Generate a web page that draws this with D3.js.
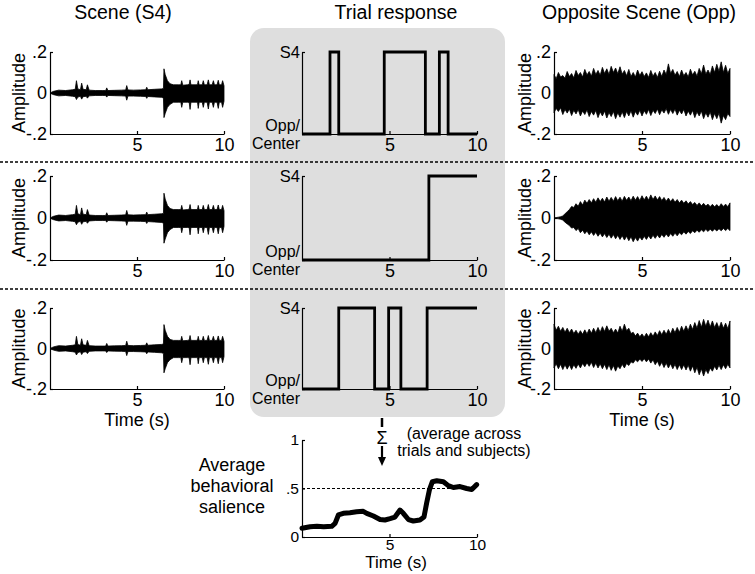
<!DOCTYPE html>
<html>
<head>
<meta charset="utf-8">
<script src="https://cdn.jsdelivr.net/npm/d3@7"></script>
<style>
  body { margin: 0; background: #fff; }
  svg text { font-family: "Liberation Sans", Arial, sans-serif; fill: #000; }
</style>
</head>
<body>
<div id="chart"></div>
<script>
// ---- data ----
const timeTicks = [5, 10];
const ampTicks = [0.2, 0, -0.2];
const ampLabels = ['.2', '0', '-.2'];
const salTicks = [1, 0.5, 0];
const salLabels = ['1', '.5', '0'];

// scene (S4) waveform envelope, same clip in all three rows
const sceneT = [0, 0.2, 0.5, 0.9, 1.3, 1.45, 1.52, 1.6, 1.75, 1.82, 1.9, 2.08, 2.15, 2.25, 2.6, 3.0, 3.2, 3.26, 3.33, 3.7,
  4.1, 4.35, 4.41, 4.48, 4.8, 5.2, 5.5, 5.56, 5.62, 6.0, 6.4, 6.52, 6.55, 6.62, 6.75, 6.9, 7.1, 7.4, 7.52, 7.57,
  7.63, 7.9, 8.0, 8.05, 8.1, 8.4, 8.48, 8.52, 8.57, 8.75, 8.81, 8.87, 9.03, 9.1, 9.16, 9.32, 9.39, 9.45, 9.6, 9.67,
  9.73, 9.86, 9.92, 10];
const sceneHi = [0, 0.008, 0.014, 0.012, 0.016, 0.018, 0.06, 0.02, 0.016, 0.048, 0.018, 0.016, 0.04, 0.014, 0.012, 0.012, 0.012, 0.025, 0.012, 0.013,
  0.014, 0.015, 0.036, 0.015, 0.014, 0.015, 0.016, 0.028, 0.016, 0.018, 0.02, 0.022, 0.118, 0.09, 0.06, 0.045, 0.04, 0.04, 0.04, 0.06,
  0.038, 0.04, 0.042, 0.064, 0.04, 0.04, 0.042, 0.06, 0.04, 0.04, 0.06, 0.04, 0.04, 0.064, 0.04, 0.04, 0.06, 0.04, 0.04, 0.062,
  0.04, 0.04, 0.06, 0.035];
const sceneLo = [0, -0.008, -0.014, -0.012, -0.016, -0.018, -0.032, -0.02, -0.016, -0.03, -0.018, -0.016, -0.025, -0.014, -0.012, -0.012, -0.012, -0.02, -0.012, -0.013,
  -0.014, -0.015, -0.035, -0.015, -0.015, -0.016, -0.017, -0.026, -0.017, -0.019, -0.021, -0.024, -0.12, -0.1, -0.07, -0.055, -0.045, -0.045, -0.045, -0.07,
  -0.045, -0.045, -0.046, -0.08, -0.045, -0.045, -0.046, -0.075, -0.045, -0.045, -0.07, -0.045, -0.045, -0.078, -0.045, -0.045, -0.07, -0.045, -0.045, -0.075,
  -0.045, -0.045, -0.07, -0.04];

// opposite scene envelopes (one per row), sampled every 0.125 s
const oppT = [0, 0.125, 0.25, 0.375, 0.5, 0.625, 0.75, 0.875, 1, 1.125, 1.25, 1.375, 1.5, 1.625, 1.75, 1.875,
  2, 2.125, 2.25, 2.375, 2.5, 2.625, 2.75, 2.875, 3, 3.125, 3.25, 3.375, 3.5, 3.625, 3.75, 3.875,
  4, 4.125, 4.25, 4.375, 4.5, 4.625, 4.75, 4.875, 5, 5.125, 5.25, 5.375, 5.5, 5.625, 5.75, 5.875,
  6, 6.125, 6.25, 6.375, 6.5, 6.625, 6.75, 6.875, 7, 7.125, 7.25, 7.375, 7.5, 7.625, 7.75, 7.875,
  8, 8.125, 8.25, 8.375, 8.5, 8.625, 8.75, 8.875, 9, 9.125, 9.25, 9.375, 9.5, 9.625, 9.75, 9.875, 10];
const opp1Hi = [0.09, 0.07, 0.1, 0.078, 0.085, 0.072, 0.105, 0.08, 0.095, 0.074, 0.11, 0.085, 0.1, 0.078, 0.115, 0.088,
  0.105, 0.082, 0.12, 0.09, 0.11, 0.086, 0.125, 0.095, 0.118, 0.09, 0.13, 0.1, 0.122, 0.094, 0.128, 0.092,
  0.11, 0.084, 0.115, 0.08, 0.1, 0.078, 0.112, 0.085, 0.104, 0.08, 0.098, 0.076, 0.11, 0.082, 0.1, 0.076,
  0.106, 0.08, 0.112, 0.09, 0.142, 0.095, 0.115, 0.086, 0.105, 0.08, 0.112, 0.084, 0.1, 0.078, 0.116, 0.088,
  0.106, 0.082, 0.12, 0.094, 0.136, 0.092, 0.112, 0.09, 0.132, 0.1, 0.14, 0.105, 0.152, 0.1, 0.135, 0.095, 0.12];
const opp1Lo = [-0.096, -0.075, -0.09, -0.072, -0.105, -0.08, -0.098, -0.078, -0.11, -0.084, -0.102, -0.08, -0.112, -0.088, -0.105, -0.082,
  -0.115, -0.09, -0.108, -0.085, -0.12, -0.092, -0.112, -0.088, -0.122, -0.095, -0.115, -0.09, -0.125, -0.096, -0.118, -0.092,
  -0.12, -0.09, -0.112, -0.086, -0.118, -0.09, -0.108, -0.084, -0.112, -0.086, -0.104, -0.08, -0.11, -0.084, -0.1, -0.078,
  -0.106, -0.082, -0.098, -0.076, -0.104, -0.08, -0.1, -0.078, -0.108, -0.084, -0.102, -0.08, -0.112, -0.088, -0.108, -0.085,
  -0.12, -0.092, -0.112, -0.088, -0.125, -0.096, -0.118, -0.092, -0.13, -0.1, -0.125, -0.098, -0.147, -0.11, -0.13, -0.1, -0.115];
const opp2Hi = [0, 0.002, 0.004, 0.006, 0.01, 0.02, 0.03, 0.04, 0.055, 0.05, 0.068, 0.056, 0.078, 0.062, 0.085, 0.07,
  0.088, 0.072, 0.092, 0.075, 0.096, 0.078, 0.094, 0.076, 0.1, 0.08, 0.098, 0.08, 0.102, 0.082, 0.099, 0.08,
  0.103, 0.084, 0.1, 0.082, 0.104, 0.085, 0.102, 0.083, 0.106, 0.086, 0.104, 0.085, 0.11, 0.088, 0.105, 0.086,
  0.102, 0.083, 0.098, 0.08, 0.095, 0.078, 0.092, 0.075, 0.088, 0.072, 0.085, 0.07, 0.082, 0.067, 0.078, 0.064,
  0.074, 0.06, 0.072, 0.058, 0.07, 0.057, 0.066, 0.054, 0.065, 0.053, 0.064, 0.052, 0.068, 0.055, 0.066, 0.054, 0.072];
const opp2Lo = [0, -0.002, -0.004, -0.006, -0.01, -0.02, -0.028, -0.036, -0.048, -0.045, -0.06, -0.05, -0.07, -0.058, -0.075, -0.062,
  -0.08, -0.066, -0.083, -0.068, -0.087, -0.072, -0.09, -0.074, -0.093, -0.077, -0.096, -0.079, -0.099, -0.082, -0.102, -0.084,
  -0.105, -0.087, -0.108, -0.089, -0.113, -0.093, -0.11, -0.09, -0.105, -0.087, -0.102, -0.084, -0.1, -0.082, -0.097, -0.08,
  -0.095, -0.078, -0.092, -0.076, -0.09, -0.074, -0.087, -0.072, -0.085, -0.07, -0.08, -0.066, -0.077, -0.064, -0.074, -0.061,
  -0.07, -0.058, -0.068, -0.056, -0.066, -0.054, -0.064, -0.053, -0.063, -0.052, -0.062, -0.051, -0.061, -0.05, -0.06, -0.05, -0.06];
const opp3Hi = [0.12, 0.09, 0.11, 0.085, 0.104, 0.08, 0.1, 0.078, 0.096, 0.074, 0.09, 0.07, 0.088, 0.07, 0.092, 0.072,
  0.096, 0.075, 0.1, 0.078, 0.104, 0.08, 0.108, 0.084, 0.112, 0.085, 0.1, 0.078, 0.096, 0.076, 0.11, 0.085,
  0.12, 0.088, 0.1, 0.074, 0.08, 0.062, 0.076, 0.058, 0.072, 0.056, 0.075, 0.058, 0.078, 0.06, 0.082, 0.064,
  0.088, 0.068, 0.09, 0.07, 0.094, 0.072, 0.1, 0.078, 0.104, 0.08, 0.11, 0.085, 0.112, 0.088, 0.12, 0.094,
  0.128, 0.1, 0.138, 0.105, 0.144, 0.11, 0.14, 0.106, 0.136, 0.104, 0.128, 0.1, 0.13, 0.1, 0.125, 0.098, 0.136];
const opp3Lo = [-0.096, -0.075, -0.1, -0.078, -0.104, -0.08, -0.102, -0.08, -0.104, -0.08, -0.098, -0.076, -0.096, -0.074, -0.09, -0.07,
  -0.088, -0.068, -0.094, -0.072, -0.096, -0.075, -0.1, -0.078, -0.104, -0.08, -0.108, -0.084, -0.112, -0.086, -0.1, -0.078,
  -0.096, -0.074, -0.084, -0.066, -0.072, -0.056, -0.066, -0.052, -0.064, -0.05, -0.066, -0.052, -0.072, -0.056, -0.08, -0.062,
  -0.088, -0.068, -0.094, -0.072, -0.096, -0.075, -0.1, -0.078, -0.104, -0.08, -0.104, -0.08, -0.106, -0.082, -0.112, -0.086,
  -0.12, -0.092, -0.13, -0.1, -0.136, -0.104, -0.124, -0.096, -0.112, -0.088, -0.106, -0.082, -0.104, -0.08, -0.1, -0.078, -0.096];

// trial responses: switch times and state (1 = S4, 0 = Opp/Center)
const trial1T = [0, 1.6, 2.1, 4.7, 7.05, 7.85, 8.35, 10];
const trial1S = [0, 1, 0, 1, 0, 1, 0, 0];
const trial2T = [0, 7.25, 10];
const trial2S = [0, 1, 1];
const trial3T = [0, 2.1, 4.15, 4.95, 5.65, 7.15, 10];
const trial3S = [0, 1, 0, 1, 0, 1, 1];

// average behavioral salience
const salT = [0, 0.46, 0.85, 1.24, 1.7, 1.89, 2.08, 2.36, 2.74, 3.12, 3.5, 3.7, 4.08, 4.46, 4.74, 5.03, 5.31, 5.6, 5.79, 6.08,
  6.36, 6.74, 6.97, 7.12, 7.28, 7.45, 7.7, 8.08, 8.36, 8.65, 9.03, 9.41, 9.7, 9.98];
const salV = [0.09, 0.106, 0.11, 0.105, 0.11, 0.14, 0.227, 0.244, 0.25, 0.26, 0.265, 0.244, 0.216, 0.18, 0.175, 0.19, 0.206, 0.278, 0.244, 0.18,
  0.165, 0.175, 0.206, 0.347, 0.485, 0.57, 0.58, 0.57, 0.53, 0.51, 0.52, 0.5, 0.49, 0.54];

// ---- layout ----
const W = 755, H = 574;
const rowTop = [52, 176, 308];
const rowBot = [134, 260, 389];
const colL = [50, 224], colM = [302, 477], colR = [554, 730];

const svg = d3.select('#chart').append('svg')
  .attr('width', W).attr('height', H);

// gray box behind trial responses
svg.append('rect')
  .attr('x', 250).attr('y', 28).attr('width', 255).attr('height', 389)
  .attr('rx', 14).attr('fill', '#dedede');

// dashed row separators
[162, 289].forEach(y => {
  svg.append('line')
    .attr('x1', 0).attr('x2', W).attr('y1', y).attr('y2', y)
    .attr('stroke', '#000').attr('stroke-width', 1.4).attr('stroke-dasharray', '3,2');
});

// titles
const titles = [['Scene (S4)', 123], ['Trial response', 396], ['Opposite Scene (Opp)', 639]];
titles.forEach(([t, x]) => {
  svg.append('text').attr('x', x).attr('y', 19).attr('text-anchor', 'middle')
    .style('font-size', '19.5px').text(t);
});

function styleAxis(g, size) {
  g.attr('font-family', null).attr('font-size', null);
  g.select('.domain').attr('stroke-width', 1.2);
  g.selectAll('.tick line').attr('stroke-width', 1.2);
  g.selectAll('.tick text').style('font-size', (size || 18) + 'px');
}

function xAxis(g, x, yPos, size, pad) {
  g.append('g').attr('transform', `translate(0,${yPos})`)
    .call(d3.axisBottom(x).tickValues(timeTicks).tickFormat(d3.format('d'))
      .tickSizeInner(-3).tickSizeOuter(0).tickPadding(pad || 4))
    .call(styleAxis, size);
}

function wavePanel(cols, r, t, hi, lo, ampX) {
  const x = d3.scaleLinear().domain([0, 10]).range(cols);
  const y = d3.scaleLinear().domain([-0.2, 0.2]).range([rowBot[r], rowTop[r]]);
  const n = Math.min(t.length, hi.length, lo.length);
  const area = d3.area()
    .x(i => x(t[i])).y0(i => y(lo[i])).y1(i => y(hi[i]));
  svg.append('path').datum(d3.range(n))
    .attr('d', area).attr('fill', '#000')
    .attr('stroke', '#000').attr('stroke-width', 0.8);
  xAxis(svg, x, rowBot[r]);
  svg.append('g').attr('transform', `translate(${cols[0]},0)`)
    .call(d3.axisLeft(y).tickValues(ampTicks).tickFormat((d, i) => ampLabels[i])
      .tickSizeInner(-3).tickSizeOuter(0).tickPadding(3))
    .call(styleAxis);
  svg.append('text')
    .attr('transform', `translate(${ampX},${(rowTop[r] + rowBot[r]) / 2}) rotate(-90)`)
    .attr('text-anchor', 'middle').style('font-size', '18px').text('Amplitude');
}

function trialPanel(r, t, s) {
  const x = d3.scaleLinear().domain([0, 10]).range(colM);
  const y = d3.scaleLinear().domain([0, 1]).range([rowBot[r], rowTop[r]]);
  xAxis(svg, x, rowBot[r]);
  svg.append('g').attr('transform', `translate(${colM[0]},0)`)
    .call(d3.axisLeft(y).tickValues([1, 0]).tickFormat(d => d === 1 ? 'S4' : '')
      .tickSizeInner(-3).tickSizeOuter(0).tickPadding(2))
    .call(styleAxis, 16.5);
  svg.append('text').attr('text-anchor', 'end').style('font-size', '16px')
    .attr('x', colM[0] - 2).attr('y', y(0) - 3).text('Opp/');
  svg.append('text').attr('text-anchor', 'end').style('font-size', '16px')
    .attr('x', colM[0] - 2).attr('y', y(0) + 15).text('Center');
  const line = d3.line().curve(d3.curveStepAfter)
    .x(i => x(t[i])).y(i => y(s[i]));
  svg.append('path').datum(d3.range(t.length))
    .attr('d', line).attr('fill', 'none').attr('stroke', '#000')
    .attr('stroke-width', 2.8).attr('stroke-linejoin', 'miter');
}

[0, 1, 2].forEach(r => wavePanel(colL, r, sceneT, sceneHi, sceneLo, 25));
wavePanel(colR, 0, oppT, opp1Hi, opp1Lo, 531);
wavePanel(colR, 1, oppT, opp2Hi, opp2Lo, 531);
wavePanel(colR, 2, oppT, opp3Hi, opp3Lo, 531);

trialPanel(0, trial1T, trial1S);
trialPanel(1, trial2T, trial2S);
trialPanel(2, trial3T, trial3S);

// Time (s) under the bottom row
[[137, 426], [642, 426]].forEach(([x, y]) => {
  svg.append('text').attr('x', x).attr('y', y).attr('text-anchor', 'middle')
    .style('font-size', '18px').text('Time (s)');
});

// ---- summation arrow ----
const ax = 382;
svg.append('line').attr('x1', ax).attr('x2', ax).attr('y1', 418).attr('y2', 427)
  .attr('stroke', '#000').attr('stroke-width', 2.5);
svg.append('text').attr('x', ax).attr('y', 444).attr('text-anchor', 'middle')
  .style('font-size', '18px').text('Σ');
svg.append('line').attr('x1', ax).attr('x2', ax).attr('y1', 446).attr('y2', 458)
  .attr('stroke', '#000').attr('stroke-width', 2.2);
svg.append('path').attr('d', `M${ax - 4},457 L${ax + 4},457 L${ax},466 Z`).attr('fill', '#000');
svg.append('text').attr('x', 464).attr('y', 439).attr('text-anchor', 'middle')
  .style('font-size', '16px').text('(average across');
svg.append('text').attr('x', 464).attr('y', 456).attr('text-anchor', 'middle')
  .style('font-size', '16px').text('trials and subjects)');

// ---- average behavioral salience ----
const sx = d3.scaleLinear().domain([0, 10]).range(colM);
const sy = d3.scaleLinear().domain([0, 1]).range([537, 440]);
svg.append('line')
  .attr('x1', sx(0)).attr('x2', sx(10)).attr('y1', sy(0.5)).attr('y2', sy(0.5))
  .attr('stroke', '#000').attr('stroke-width', 1).attr('stroke-dasharray', '3,2');
xAxis(svg, sx, sy(0), 15.5, 2);
svg.append('g').attr('transform', `translate(${colM[0]},0)`)
  .call(d3.axisLeft(sy).tickValues(salTicks).tickFormat((d, i) => salLabels[i])
    .tickSizeInner(-3).tickSizeOuter(0).tickPadding(3))
  .call(styleAxis, 15.5);
const salLine = d3.line().x(i => sx(salT[i])).y(i => sy(salV[i]));
svg.append('path').datum(d3.range(salT.length))
  .attr('d', salLine).attr('fill', 'none').attr('stroke', '#000')
  .attr('stroke-width', 5).attr('stroke-linejoin', 'round').attr('stroke-linecap', 'round');
svg.append('text').attr('x', 396).attr('y', 568).attr('text-anchor', 'middle')
  .style('font-size', '17px').text('Time (s)');
['Average', 'behavioral', 'salience'].forEach((w, i) => {
  svg.append('text').attr('x', 232).attr('y', 471 + i * 21).attr('text-anchor', 'middle')
    .style('font-size', '18px').text(w);
});
</script>
</body>
</html>
